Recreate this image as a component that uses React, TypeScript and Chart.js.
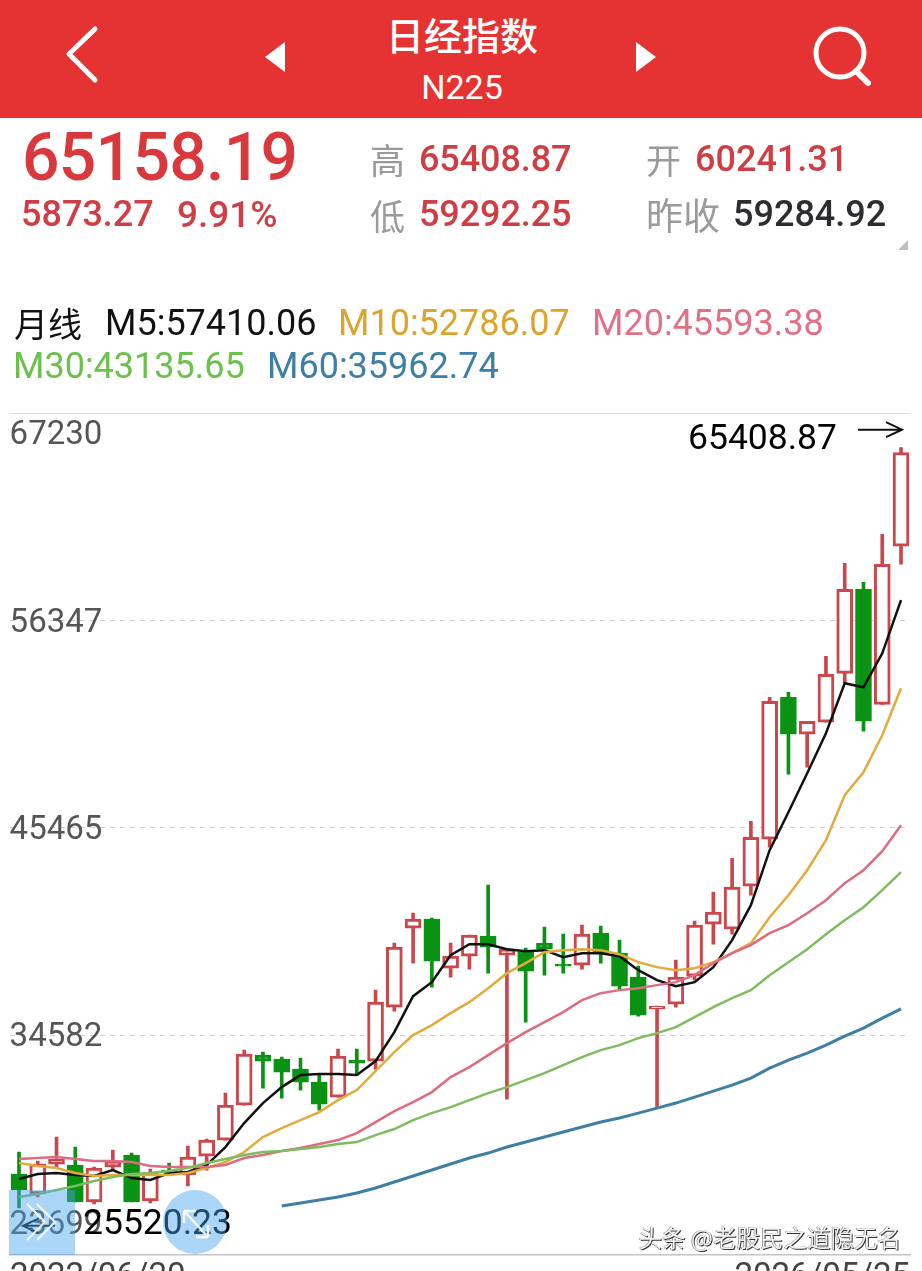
import React, { useEffect, useRef } from "react";
import { Chart, registerables } from "chart.js";

Chart.register(...registerables);

const months = [
  "2022/06","2022/07","2022/08","2022/09","2022/10","2022/11","2022/12","2023/01","2023/02","2023/03","2023/04","2023/05",
  "2023/06","2023/07","2023/08","2023/09","2023/10","2023/11","2023/12","2024/01","2024/02","2024/03","2024/04","2024/05",
  "2024/06","2024/07","2024/08","2024/09","2024/10","2024/11","2024/12","2025/01","2025/02","2025/03","2025/04","2025/05",
  "2025/06","2025/07","2025/08","2025/09","2025/10","2025/11","2025/12","2026/01","2026/02","2026/03","2026/04","2026/05",
];

const opens = [27292,26243,27816,27764,25823,27659,28288,25875,27501,27239,28236,29075,30911,33533,33324,32799,32117,31330,33271,33219,36051,40194,40666,38096,38726,39775,38778,38936,39408,38306,38254,39932,38883,37624,35946,36208,37677,40404,40142,42397,44862,52310,50370,50999,53569,57975,51943,60241.31];
const closes = [26452,27816,28079,25823,27606,27974,25823,27344,27344,28183,29075,30911,33586,33219,32641,32117,30963,33481,33114,36313,39198,40666,38464,38726,39827,39198,39093,37939,39093,38201,39880,38883,37152,35631,36103,37624,40352,41034,42345,44967,52101,50370,51052,53517,57975,51052,59285,65158.19];
const highs = [28446,27974,29232,28708,27659,28550,28393,27554,27869,28760,29127,31540,33796,33691,33428,33376,32484,33848,33848,36943,39408,40981,40719,39408,39827,42450,39093,39145,40247,39880,40352,40299,39565,38201,36103,38516,40562,42083,43866,45807,52310,52573,51052,54461,59339,58342,60860,65408.87];
const lows = [25520.23,26085,27659,25823,25718,27501,25823,25770,27239,26662,27501,29075,30911,31802,31278,31697,30648,31330,32484,32799,35841,38359,37100,37624,38044,37834,31225,35264,37729,37834,38044,38359,36943,35579,30753,36051,37467,39355,39880,41925,44443,48272,48639,50999,53045,50527,51943,59292.25];

const m5 = [27029,27292,27344,27239,27187,27501,27082,26977,27344,27397,27764,28708,29967,31016,31855,32484,32537,32537,32484,33219,34740,36628,37362,38778,39355,39355,39093,38988,39041,38673,38883,38883,38726,37992,37467,37152,37362,38149,39565,41401,44286,46279,48324,50422,53045,52835,54618,57410.06];
const m10 = [27869,27711,27606,27344,27187,27239,27239,27239,27239,27344,27606,27921,28446,29232,29704,30124,30543,31173,31697,32694,33691,34582,35107,35736,36313,37047,37834,38359,38936,39041,39093,39041,38831,38411,38149,37992,38096,38411,38883,39408,40771,41925,43236,44810,47170,48377,50317,52786.07];
const m20 = [28079,28131,28183,28079,27974,27974,27921,27711,27659,27659,27659,27764,28131,28288,28498,28655,28865,29075,29442,30019,30596,31068,31593,32379,32904,33533,34162,34740,35264,35789,36418,36785,36943,37047,37205,37362,37729,38359,38883,39303,39932,40352,40981,41663,42555,43236,44233,45593.38];
const m30 = [26085,26243,26452,26662,26925,27134,27292,27344,27449,27606,27869,28079,28288,28446,28498,28603,28708,28865,28970,29337,29652,30124,30491,30806,31173,31540,31855,32222,32589,33009,33428,33796,34058,34425,34687,35002,35526,36051,36523,36943,37729,38411,39093,39880,40614,41295,42188,43135.65];
const m60: (number | null)[] = [null,null,null,null,null,null,null,null,null,null,null,null,null,null,25613,25771,25928,26085,26295,26557,26872,27187,27502,27817,28131,28393,28708,28970,29232,29495,29757,30019,30229,30491,30753,31016,31330,31645,31960,32327,32851,33271,33638,34058,34530,34949,35474,35962.74];

const yTicks = [67230, 56347, 45465, 34582, 23699];
const xTickLabels = ["2022/06/20", "2026/05/25"];
const highLabel = "65408.87";
const lowLabel = "25520.23";

const RED = "#cb474c";
const GREEN = "#0a9213";
const LATIN = "Roboto, sans-serif";
const CJK = "'Noto Sans CJK SC', sans-serif";

type T = { t: string; x: number; y: number; s: number; c: string; w?: number; f?: string; ls?: number };
const texts: T[] = [
  { t: "65158.19", x: 22, y: 158, s: 66, c: "#d9393d", w: 500, ls: -0.7 },
  { t: "5873.27", x: 21, y: 214, s: 36, c: "#cf3d45", w: 500 },
  { t: "9.91%", x: 177, y: 214, s: 37, c: "#cf3d45", w: 500 },
  { t: "高", x: 370, y: 158, s: 35, c: "#9a9a9a", f: CJK },
  { t: "65408.87", x: 419, y: 159, s: 36, c: "#cf3d45", w: 500, ls: -0.1 },
  { t: "开", x: 646, y: 158, s: 35, c: "#9a9a9a", f: CJK },
  { t: "60241.31", x: 695, y: 159, s: 36, c: "#cf3d45", w: 500 },
  { t: "低", x: 370, y: 214, s: 35, c: "#9a9a9a", f: CJK },
  { t: "59292.25", x: 419, y: 214, s: 36, c: "#cf3d45", w: 500, ls: -0.1 },
  { t: "昨收", x: 646, y: 214, s: 37, c: "#9a9a9a", f: CJK },
  { t: "59284.92", x: 733, y: 214, s: 36, c: "#2b2d30", w: 500 },
  { t: "月线", x: 14, y: 323, s: 34, c: "#111", f: CJK },
  { t: "M5:57410.06", x: 105, y: 323, s: 36, c: "#111" },
  { t: "M10:52786.07", x: 338, y: 323, s: 36, c: "#dca42e" },
  { t: "M20:45593.38", x: 592, y: 323, s: 36, c: "#e26f86" },
  { t: "M30:43135.65", x: 13, y: 366, s: 36, c: "#6cc04c" },
  { t: "M60:35962.74", x: 267, y: 366, s: 36, c: "#3e7fa6" },
];

const isUp = (i: number) => closes[i] >= opens[i];

const annotate = {
  id: "hiLo",
  afterDraw(chart: any) {
    const { ctx, scales } = chart;
    const hx = scales.x.getPixelForValue(47);
    const hy = scales.y.getPixelForValue(highs[47]);
    const lx = scales.x.getPixelForValue(0);
    const ly = scales.y.getPixelForValue(lows[0]);
    ctx.save();
    ctx.fillStyle = "#000";
    ctx.strokeStyle = "#111";
    ctx.lineWidth = 2;
    ctx.font = "35.5px Roboto";
    ctx.textBaseline = "middle";
    ctx.textAlign = "right";
    ctx.fillText(highLabel, hx - 64, hy - 8);
    ctx.textAlign = "left";
    ctx.fillText(lowLabel, lx + 64, ly + 17);
    const arrow = (x0: number, x1: number, y: number) => {
      const d = x1 > x0 ? -16 : 16;
      ctx.beginPath();
      ctx.moveTo(x0, y);
      ctx.lineTo(x1, y);
      ctx.moveTo(x1 + d, y - 7.5);
      ctx.lineTo(x1, y);
      ctx.lineTo(x1 + d, y + 7.5);
      ctx.stroke();
    };
    arrow(hx - 43, hx + 1, hy - 18);
    arrow(lx + 36, lx + 4, ly + 18);
    ctx.restore();
  },
};

function lineSet(label: string, data: (number | null)[], color: string, width: number) {
  return {
    type: "line" as const,
    label,
    data,
    borderColor: color,
    backgroundColor: color,
    borderWidth: width,
    pointRadius: 0,
    tension: 0,
    spanGaps: false,
    order: 1,
  };
}

export default function App() {
  const ref = useRef<HTMLCanvasElement>(null);
  useEffect(() => {
    const wick = lows.map((l, i) => [l, highs[i]]);
    const body = opens.map((o, i) => [o, closes[i]]);
    const chart = new Chart(ref.current!, {
      type: "bar",
      data: {
        labels: months,
        datasets: [
          lineSet("M60", m60, "#3f7fa6", 3),
          lineSet("M30", m30, "#7dbd5f", 2.5),
          lineSet("M20", m20, "#dd6c82", 2.5),
          lineSet("M10", m10, "#e3aa3d", 2.5),
          lineSet("M5", m5, "#111111", 2.5),
          {
            type: "bar",
            label: "body",
            data: body as any,
            grouped: false,
            barThickness: 16,
            borderWidth: 3,
            borderSkipped: false,
            borderColor: (c: any) => (isUp(c.dataIndex) ? RED : GREEN),
            backgroundColor: (c: any) => (isUp(c.dataIndex) ? "#ffffff" : GREEN),
            order: 2,
          },
          {
            type: "bar",
            label: "wick",
            data: wick as any,
            grouped: false,
            barThickness: 3,
            borderWidth: 0,
            backgroundColor: (c: any) => (isUp(c.dataIndex) ? RED : GREEN),
            order: 3,
          },
        ] as any,
      },
      options: {
        animation: false,
        responsive: false,
        maintainAspectRatio: false,
        layout: { padding: { left: 9.6, right: 11.6, top: 413, bottom: 0 } },
        plugins: { legend: { display: false }, tooltip: { enabled: false } },
        scales: {
          x: {
            type: "category",
            offset: true,
            grid: { display: false, drawTicks: false },
            border: { display: true, color: "#c4c4c4", width: 1.5 },
            ticks: {
              autoSkip: false,
              maxRotation: 0,
              align: "inner",
              padding: 3,
              color: "#444",
              font: { family: "Roboto", size: 33 },
              callback: (_v: any, i: number) => xTickLabels[i],
            },
            afterBuildTicks: (s: any) => {
              s.ticks = [{ value: -0.48 }, { value: 47.48 }];
            },
            afterFit: (s: any) => {
              s.height = 16;
              s.paddingLeft = 0;
              s.paddingRight = 0;
            },
          },
          y: {
            type: "linear",
            min: 23043,
            max: 67230,
            grid: {
              drawTicks: false,
              lineWidth: 1,
              color: (c: any) =>
                c.tick?.value === 23699 ? "rgba(0,0,0,0)" : c.tick?.value === 67230 ? "#dcdcdc" : "#cfcfcf",
            },
            border: {
              display: false,
              dash: (c: any) => (c.tick?.value === 67230 ? [] : [5, 5]),
            },
            ticks: {
              mirror: true,
              padding: 0,
              labelOffset: 3,
              autoSkip: false,
              color: "#555",
              font: { family: "Roboto", size: 33 },
              callback: (v: any) => {
                if (v === yTicks[0]) return ["", String(v)];
                if (v === yTicks[4]) return [String(v), ""];
                return String(v);
              },
            },
            afterBuildTicks: (s: any) => {
              s.ticks = yTicks.map((value) => ({ value }));
            },
            afterFit: (s: any) => {
              s.width = 0;
              s.paddingTop = 0;
              s.paddingBottom = 0;
            },
          },
        },
      } as any,
      plugins: [annotate],
    });
    return () => chart.destroy();
  }, []);

  return (
    <div style={{ position: "absolute", left: 0, top: 0, width: 922, height: 1271, overflow: "hidden", background: "#fff" }}>
      <style>{"html,body{margin:0;padding:0;background:#fff}"}</style>
      <canvas ref={ref} width={922} height={1271} style={{ position: "absolute", left: 0, top: 0, display: "block" }} />

      <div style={{ position: "absolute", left: 0, top: 0, width: 922, height: 118, background: "#e53232" }} />
      <svg width={922} height={118} style={{ position: "absolute", left: 0, top: 0 }}>
        <path d="M95 29 L69 54 L95 80" fill="none" stroke="#fff" strokeWidth={5} strokeLinecap="round" strokeLinejoin="round" />
        <path d="M285 42 L265 57 L285 72 Z" fill="#fff" />
        <path d="M636 42 L656 57 L636 72 Z" fill="#fff" />
        <circle cx={840} cy={53} r={24} fill="none" stroke="#fff" strokeWidth={5} />
        <path d="M856 71 L868 83" stroke="#fff" strokeWidth={6} strokeLinecap="round" />
      </svg>
      <div style={{ position: "absolute", left: 262, width: 400, top: 34, transform: "translateY(-50%)", textAlign: "center", color: "#fff", font: `500 38px ${CJK}`, lineHeight: 1 }}>日经指数</div>
      <div style={{ position: "absolute", left: 262, width: 400, top: 87, transform: "translateY(-50%)", textAlign: "center", color: "#fff", font: `400 34px ${LATIN}`, lineHeight: 1 }}>N225</div>

      {texts.map((d) => (
        <div
          key={d.t}
          style={{
            position: "absolute",
            left: d.x,
            top: d.y,
            transform: "translateY(-50%)",
            whiteSpace: "nowrap",
            color: d.c,
            fontFamily: d.f ?? LATIN,
            fontSize: d.s,
            fontWeight: d.w ?? 400,
            lineHeight: 1,
            letterSpacing: d.ls ?? 0,
          }}
        >
          {d.t}
        </div>
      ))}
      <svg width={922} height={260} style={{ position: "absolute", left: 0, top: 0 }}>
        <path d="M908 240 L908 250 L898 250 Z" fill="#bdbdbd" />
      </svg>

      <div style={{ position: "absolute", left: 9, top: 1190, width: 66, height: 65, background: "rgba(70,165,240,0.45)" }} />
      <div style={{ position: "absolute", left: 163, top: 1190, width: 64, height: 64, borderRadius: "50%", background: "rgba(70,165,240,0.45)" }} />
      <svg width={922} height={1271} style={{ position: "absolute", left: 0, top: 0 }}>
        <g fill="none" stroke="#fff" strokeWidth={2} opacity={0.9}>
          <path d="M27 1204 L45 1222 L27 1240" />
          <path d="M37 1204 L55 1222 L37 1240" />
          <path d="M184 1211 L208 1237 M184 1211 L196 1211 M184 1211 L184 1223 M208 1237 L196 1237 M208 1237 L208 1225" strokeWidth={2.5} />
        </g>
      </svg>
      <div style={{ position: "absolute", right: 21, top: 1238, transform: "translateY(-50%)", whiteSpace: "nowrap", font: `400 23.5px ${CJK}`, lineHeight: 1, color: "#f4f4f4", textShadow: "1px 1px 0 #333, -0.5px -0.5px 0 #555" }}>
        头条 @老股民之道隐无名
      </div>
    </div>
  );
}
